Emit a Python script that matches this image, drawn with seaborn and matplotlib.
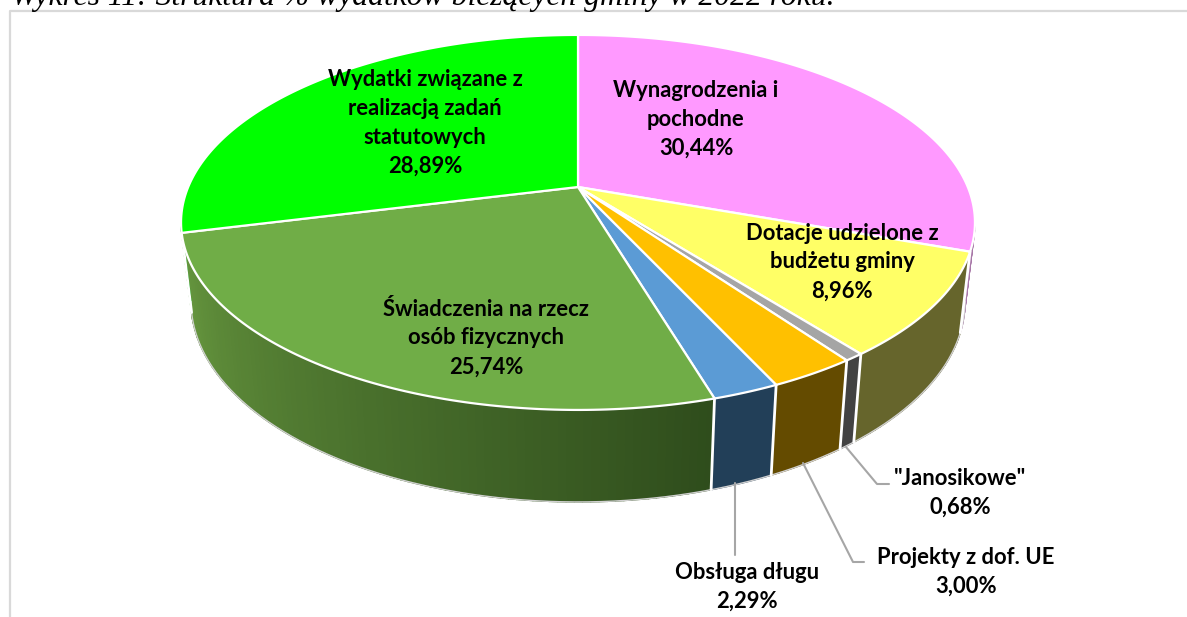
import numpy as np
import seaborn as sns
import matplotlib.pyplot as plt

# shares in %, clockwise from 12 o'clock
categories = ["Wynagrodzenia i\npochodne", "Dotacje udzielone z\nbudżetu gminy", '"Janosikowe"',
              "Projekty z dof. UE", "Obsługa długu", "Świadczenia na rzecz\nosób fizycznych",
              "Wydatki związane z\nrealizacją zadań\nstatutowych"]
shares = [30.44, 8.96, 0.68, 3.00, 2.29, 25.74, 28.89]
share_labels = ["30,44%", "8,96%", "0,68%", "3,00%", "2,29%", "25,74%", "28,89%"]
top_colors = ["#FF99FF", "#FFFF66", "#A5A5A5", "#FFC000", "#5B9BD5", "#70AD47", "#00FF00"]
side_colors = [("#A878A8", "#A878A8"), ("#66652C", "#66652C"), ("#424242", "#424242"),
               ("#644B00", "#644B00"), ("#223F58", "#223F58"), ("#67983F", "#2F4D1C"),
               ("#009900", "#009900")]
label_pos = [(696, 119), (842, 262), (960, 493), (966, 572), (747, 587), (486, 338), (425, 123)]
title = "Wykres 11: Struktura % wydatków bieżących gminy w 2022 roku."

CX, CY, R, K, A = 578, 187, 389.8, 0.189, 180.8
SCALE, SCALE_Y, LOW_Y = 0.975, 1.07, 263.4
VIS_FROM, VIS_TO = np.radians(100.9), np.radians(259.1)


def top_xy(theta):
    # perspective projection of the pie's rim
    den = 1 + K * np.cos(theta)
    return CX + R * np.sin(theta) / den, CY - A * np.cos(theta) / den


def low_xy(theta):
    x, y = top_xy(theta)
    return CX + SCALE * (x - CX), LOW_Y + SCALE_Y * (y - CY)


sns.set_theme(style="white")
plt.rcParams['font.family'] = ['Lato', 'DejaVu Sans']
fig, ax = plt.subplots(figsize=(11.87, 6.17), dpi=100)
ax.set_position([0, 0, 1, 1])
ax.set_xlim(0, 1187)
ax.set_ylim(617, 0)
ax.axis('off')

edges = np.radians(np.concatenate([[0], np.cumsum(shares)]) * 3.6)

# side wall
for i, (c1, c2) in enumerate(side_colors):
    a, b = max(edges[i], VIS_FROM), min(edges[i + 1], VIS_TO)
    if b <= a:
        continue
    n = max(2, int(np.degrees(b - a)))
    ts = np.linspace(a, b, n + 1)
    pal = sns.blend_palette([c2, c1], n)
    for j in range(n):
        t = np.linspace(ts[j], ts[j + 1], 4)
        xt, yt = top_xy(t)
        xl, yl = low_xy(t)
        ax.fill(np.r_[xt, xl[::-1]], np.r_[yt, yl[::-1]], facecolor=pal[j], edgecolor=pal[j],
                lw=1.0, zorder=2)
t = np.linspace(VIS_FROM, VIS_TO, 200)
ax.plot(*low_xy(t), color="#D0D0D0", lw=1, zorder=3)
for e in edges[1:-1]:
    if VIS_FROM < e < VIS_TO:
        xt, yt = top_xy(e)
        xl, yl = low_xy(e)
        ax.plot([xt, xl], [yt, yl], color="white", lw=2, zorder=3)

# top face
for i, col in enumerate(top_colors):
    t = np.linspace(edges[i], edges[i + 1], 120)
    x, y = top_xy(t)
    ax.fill(np.r_[CX, x], np.r_[CY, y], facecolor=col, edgecolor="white", lw=1.6, zorder=4,
            joinstyle='round')

# leader lines
leaders = [[(846, 447), (877, 484), (889, 484)], [(803, 463), (853, 562), (864, 562)],
           [(735, 483), (735, 555)]]
for pts in leaders:
    xs, ys = zip(*pts)
    ax.plot(xs, ys, color="#A6A6A6", lw=1.5, zorder=5)

# labels
for name, val, (x, y) in zip(categories, share_labels, label_pos):
    ax.text(x, y, name + "\n" + val, ha='center', va='center', fontsize=15.8, fontweight='bold',
            color="black", linespacing=1.47, zorder=6)

# frame and cut-off caption
ax.plot([10, 10, 1187], [617, 11, 11], color="#D9D9D9", lw=1.6, zorder=1)
ax.text(11, 5, title, family='Liberation Serif', style='italic', fontsize=22.8, color="black",
        ha='left', va='baseline')

fig.savefig("out.png", dpi=100)
